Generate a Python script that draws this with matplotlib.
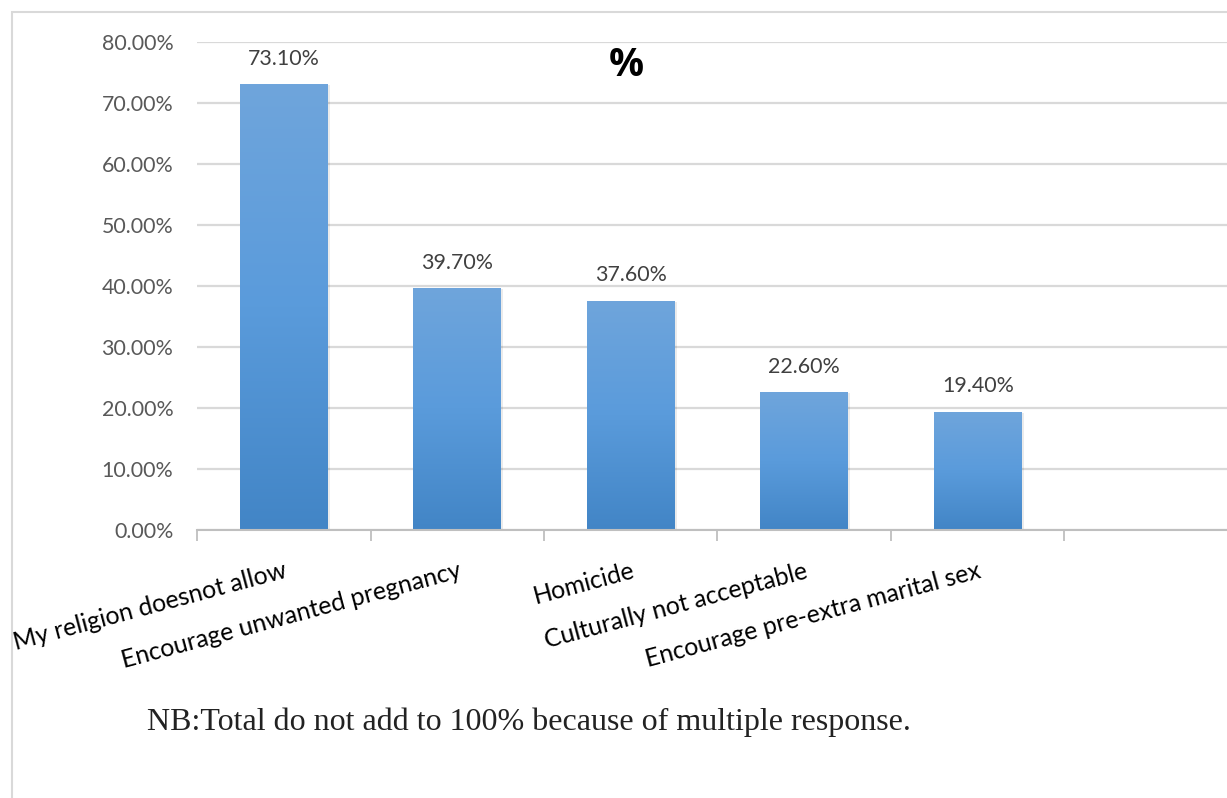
import matplotlib
matplotlib.use('Agg')
import matplotlib.pyplot as plt
import numpy as np
from matplotlib.patches import Rectangle
from matplotlib.colors import LinearSegmentedColormap

plt.rcParams['font.family'] = ['Lato', 'DejaVu Sans']

categories = ['My religion doesnot allow', 'Encourage unwanted pregnancy', 'Homicide',
              'Culturally not acceptable', 'Encourage pre-extra marital sex', '']
values = [73.1, 39.7, 37.6, 22.6, 19.4, np.nan]
yticks = [0, 10, 20, 30, 40, 50, 60, 70, 80]

W, H = 1227, 798
fig = plt.figure(figsize=(W / 100, H / 100), dpi=100)
fig.patch.set_facecolor('white')

# outer chart border (cropped on right/bottom like the source)
fig.patches.append(Rectangle((12 / W, -0.05), 1.2, (H - 12) / H + 0.05,
                             transform=fig.transFigure, fill=False,
                             edgecolor='#d9d9d9', lw=1.5))

ax = fig.add_axes([197 / W, (H - 530) / H, 1041 / W, 488 / H])
x = np.arange(len(categories))
bars = ax.bar(x, values, width=0.507, color='#5b9bd5', zorder=2)

# vertical gradient fill like the Excel style
cmap = LinearSegmentedColormap.from_list('g', ['#4285c6', '#5a9bdb', '#6fa5dc'])
grad = np.linspace(0, 1, 256).reshape(-1, 1)
for b in bars:
    if np.isnan(b.get_height()):
        continue
    x0, w, h = b.get_x(), b.get_width(), b.get_height()
    # soft shadow
    ax.add_patch(Rectangle((x0 + 0.012, -0.3), w, h + 0.1, facecolor='#000000',
                           alpha=0.08, lw=0, zorder=1.5))
    im = ax.imshow(grad, extent=[x0, x0 + w, 0, h], origin='lower', cmap=cmap,
                   aspect='auto', zorder=2.5)
    im.set_clip_path(b)

ax.set_xlim(-0.5, len(categories) - 0.5)
ax.set_ylim(0, 80)
ax.set_yticks(yticks)
ax.set_yticklabels([f'{v:.2f}%' for v in yticks], color='#595959', fontsize=15.4)
ax.yaxis.grid(True, color='#d9d9d9', lw=1.6, zorder=0)
ax.set_axisbelow(True)

ax.set_xticks(x)
ax.set_xticklabels(categories, rotation=15, ha='right', va='top',
                   rotation_mode='anchor', fontsize=17.8, color='black')
ax.set_xticks(np.arange(-0.5, len(categories) - 0.4, 1), minor=True)
ax.tick_params(axis='x', which='major', length=0, pad=21)
ax.tick_params(axis='x', which='minor', length=8, color='#bfbfbf', width=1.3)
ax.tick_params(axis='y', length=0, pad=17)

for s in ['top', 'right', 'left']:
    ax.spines[s].set_visible(False)
ax.spines['bottom'].set_color('#bfbfbf')
ax.spines['bottom'].set_linewidth(1.5)

for b, v in zip(bars, values):
    if np.isnan(v):
        continue
    ax.annotate(f'{v:.2f}%', (b.get_x() + b.get_width() / 2, v),
                xytext=(0, 11), textcoords='offset points', ha='center', va='bottom',
                fontsize=15.4, color='#404040')

fig.text(626 / W, 1 - 66 / H, '%', ha='center', va='center', fontsize=28,
         fontweight='bold', color='black', family=['Open Sans', 'DejaVu Sans'])

fig.text(147 / W, 1 - 722 / H, 'NB:Total do not add to 100% because of multiple response.',
         ha='left', va='center', fontsize=23, color='#222222',
         family=['Liberation Serif', 'DejaVu Serif'])

fig.savefig('out.png', dpi=100, facecolor='white')
